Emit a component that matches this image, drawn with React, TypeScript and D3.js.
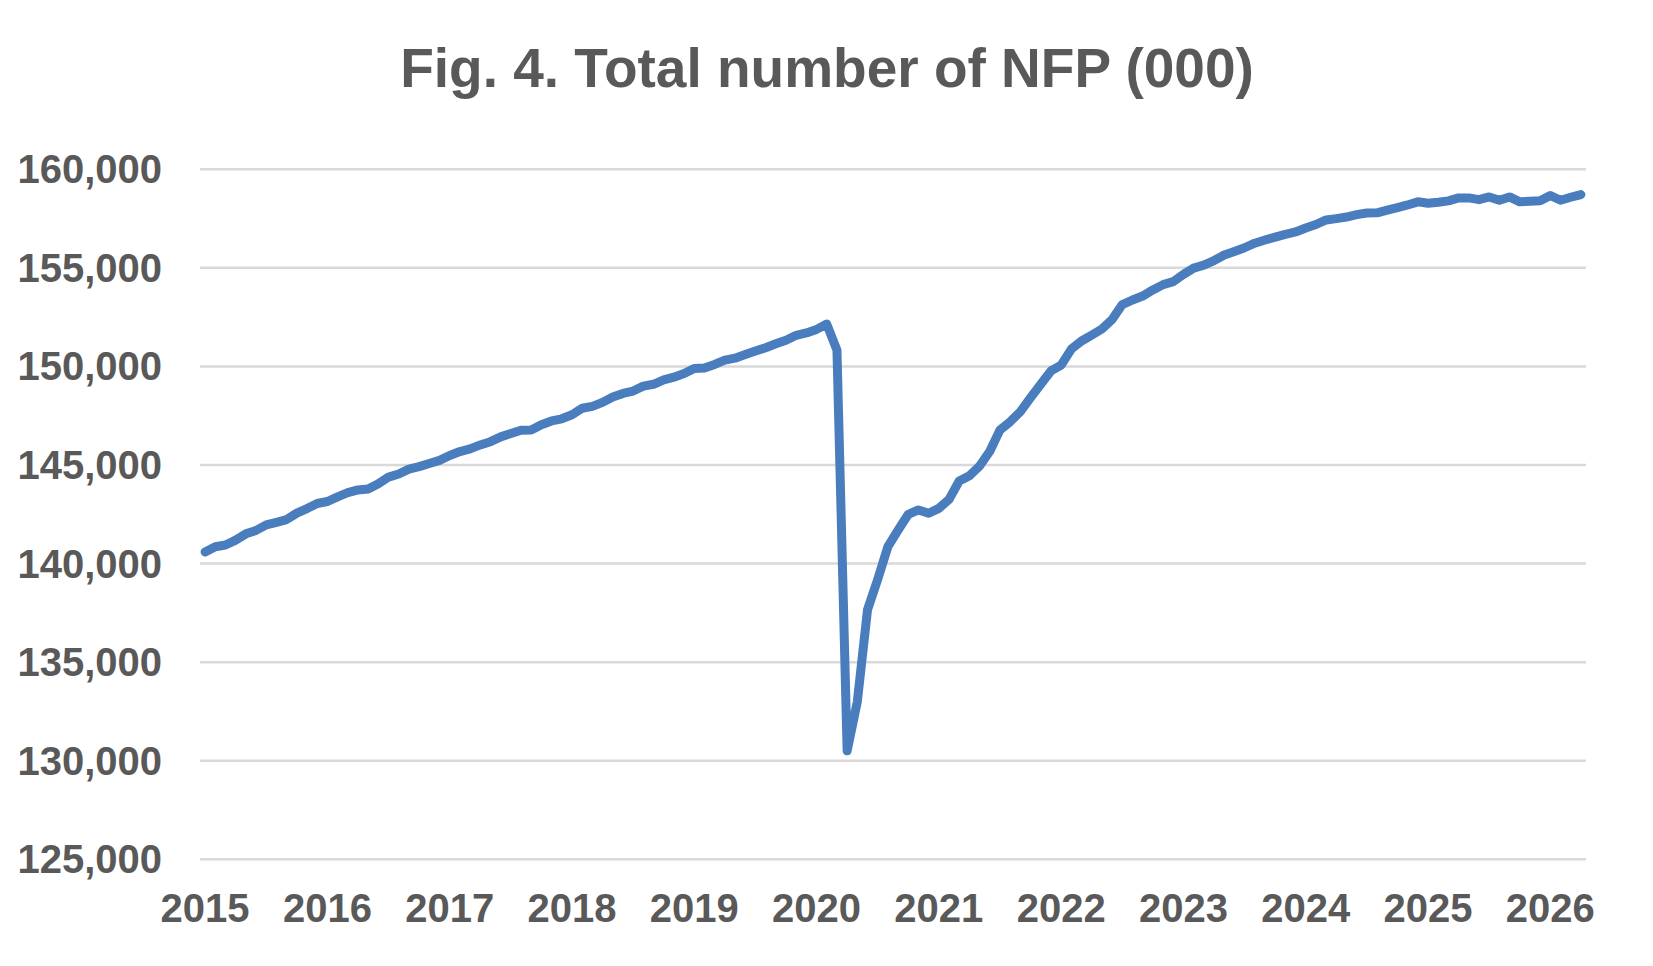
import React, { useEffect, useRef } from 'react';
import * as d3 from 'd3';

// Monthly nonfarm payrolls, thousands (Jan..Dec)
const NFP_2015 = [140592, 140857, 140941, 141191, 141508, 141682, 141965, 142096, 142233, 142560, 142791, 143049];
const NFP_2016 = [143150, 143387, 143597, 143737, 143781, 144052, 144388, 144545, 144794, 144918, 145079, 145236];
const NFP_2017 = [145483, 145683, 145816, 146019, 146183, 146427, 146595, 146767, 146776, 147043, 147236, 147344];
const NFP_2018 = [147547, 147880, 147973, 148178, 148449, 148630, 148751, 149003, 149095, 149317, 149456, 149638];
const NFP_2019 = [149900, 149920, 150100, 150320, 150420, 150600, 150780, 150950, 151150, 151330, 151580, 151700];
const NFP_2020 = [151880, 152150, 150830, 130500, 133000, 137660, 139200, 140860, 141700, 142500, 142720, 142550];
const NFP_2021 = [142800, 143260, 144190, 144460, 144950, 145700, 146780, 147200, 147710, 148420, 149100, 149770];
const NFP_2022 = [150070, 150880, 151290, 151590, 151900, 152380, 153140, 153370, 153570, 153880, 154150, 154300];
const NFP_2023 = [154670, 154990, 155140, 155370, 155650, 155830, 156020, 156250, 156410, 156560, 156700, 156820];
const NFP_2024 = [157020, 157200, 157430, 157500, 157580, 157700, 157780, 157790, 157930, 158060, 158190, 158350];
const NFP_2025 = [158280, 158330, 158400, 158550, 158550, 158460, 158600, 158430, 158600, 158350, 158380, 158400];
const NFP_2026 = [158670, 158430, 158580, 158720];

const YEARS = [2015, 2016, 2017, 2018, 2019, 2020, 2021, 2022, 2023, 2024, 2025, 2026];
const Y_TICKS = [125000, 130000, 135000, 140000, 145000, 150000, 155000, 160000];

const TITLE = 'Fig. 4. Total number of NFP (000)';

const WIDTH = 1653;
const HEIGHT = 966;
const FONT = '"Liberation Sans", Arial, sans-serif';
const TEXT_COLOR = '#595959';

const App: React.FC = () => {
  const svgRef = useRef<SVGSVGElement>(null);

  useEffect(() => {
    if (!svgRef.current) return;
    const svg = d3.select(svgRef.current);
    svg.selectAll('*').remove();

    const values = [
      ...NFP_2015, ...NFP_2016, ...NFP_2017, ...NFP_2018, ...NFP_2019, ...NFP_2020,
      ...NFP_2021, ...NFP_2022, ...NFP_2023, ...NFP_2024, ...NFP_2025, ...NFP_2026,
    ];

    // plot area
    const left = 200;
    const right = 1586;
    const top = 169.3;
    const bottom = 859.3;

    // Excel-style category axis: each month gets a slot, point sits mid-slot
    const x = d3
      .scaleBand<number>()
      .domain(d3.range(values.length))
      .range([left, right]);
    const xPos = (i: number) => (x(i) as number) + x.bandwidth() / 2;

    const y = d3.scaleLinear().domain([125000, 160000]).range([bottom, top]);

    svg.append('rect').attr('width', WIDTH).attr('height', HEIGHT).attr('fill', '#ffffff');

    // title
    svg.append('text')
      .attr('x', 827)
      .attr('y', 87)
      .attr('text-anchor', 'middle')
      .attr('font-family', FONT)
      .attr('font-weight', 'bold')
      .attr('font-size', '55px')
      .attr('fill', TEXT_COLOR)
      .text(TITLE);

    // gridlines + y labels
    const grid = svg.append('g');
    Y_TICKS.forEach((t) => {
      grid.append('line')
        .attr('x1', left)
        .attr('x2', right)
        .attr('y1', y(t))
        .attr('y2', y(t))
        .attr('stroke', '#d9d9d9')
        .attr('stroke-width', 2.5);

      grid.append('text')
        .attr('x', 162)
        .attr('y', y(t) + 14)
        .attr('text-anchor', 'end')
        .attr('font-family', FONT)
        .attr('font-weight', 'bold')
        .attr('font-size', '40px')
        .attr('fill', TEXT_COLOR)
        .text(d3.format(',')(t));
    });

    // x labels at January of each year
    const xAxis = svg.append('g');
    YEARS.forEach((yr, k) => {
      xAxis.append('text')
        .attr('x', xPos(k * 12))
        .attr('y', 922)
        .attr('text-anchor', 'middle')
        .attr('font-family', FONT)
        .attr('font-weight', 'bold')
        .attr('font-size', '40px')
        .attr('fill', TEXT_COLOR)
        .text(String(yr));
    });

    // series line
    const line = d3
      .line<number>()
      .x((_, i) => xPos(i))
      .y((d) => y(d));

    svg.append('path')
      .datum(values)
      .attr('d', line)
      .attr('fill', 'none')
      .attr('stroke', '#4a7dbd')
      .attr('stroke-width', 9)
      .attr('stroke-linejoin', 'round')
      .attr('stroke-linecap', 'round');
  }, []);

  return (
    <div style={{ position: 'absolute', left: 0, top: 0, width: WIDTH, height: HEIGHT }}>
      <svg ref={svgRef} width={WIDTH} height={HEIGHT} style={{ display: 'block' }} />
    </div>
  );
};

export default App;
